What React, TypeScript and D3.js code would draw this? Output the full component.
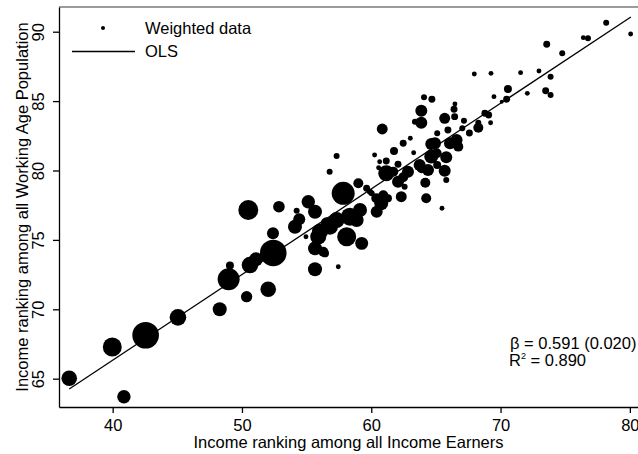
import React, { useRef, useEffect } from "react";
import { select, scaleLinear, scaleSqrt, line, axisBottom, axisLeft } from "d3";

// ranking among all income earners (x)
const earnersRank = [
  36.64, 39.97, 40.87, 42.55, 45.05, 48.28, 48.97, 49.07, 50.36, 52.03,
  50.62, 51.08, 52.42, 50.49, 52.86, 54.23, 55.13, 55.65, 54.1, 54.43,
  52.4, 55.65, 57.45, 54.95, 55.9, 55.65, 56.42, 57.83, 58.1, 56.81,
  57.32, 58.35, 59.13, 59.26, 60.42, 59.0, 59.64, 60.03, 57.32, 56.78,
  60.85, 60.26, 60.65, 60.57, 61.16, 61.76, 62.47, 63.02, 62.07, 61.16,
  62.07, 62.32, 62.84, 63.74, 64.39, 65.1, 65.68, 65.8, 64.64, 64.64,
  65.8, 60.77, 60.39, 61.29, 64.18, 64.25, 65.47, 62.58, 63.28, 65.1,
  65.93, 66.45, 66.4, 65.68, 63.87, 63.87, 63.38, 64.08, 64.69, 66.47,
  66.6, 66.73, 67.17, 67.04, 67.59, 68.28, 68.79, 69.08, 69.23, 69.49,
  70.09, 70.47, 70.57, 67.97, 69.26, 71.55, 72.07, 72.97, 73.49, 73.87,
  73.87, 73.57, 74.77, 76.4, 76.76, 78.17, 80.06, 56.03, 56.29, 56.55,
  58.87, 65.06, 64.93, 66.09, 61.7, 62.47, 60.93, 68.28, 63.9, 59.9,
];

// ranking among all working age population (y)
const workingAgeRank = [
  65.03, 67.28, 63.7, 68.13, 69.42, 70.0, 72.16, 73.16, 70.91, 71.44,
  73.19, 73.6, 74.06, 77.15, 77.39, 77.1, 77.75, 77.03, 75.95, 76.48,
  75.48, 72.88, 73.07, 75.23, 75.23, 74.39, 74.03, 78.36, 75.23, 75.95,
  76.43, 76.67, 77.15, 74.75, 77.03, 79.08, 78.72, 78.36, 81.04, 79.91,
  82.99, 81.12, 80.63, 80.2, 80.68, 81.4, 81.96, 82.32, 80.45, 79.8,
  79.19, 78.11, 79.91, 80.4, 80.04, 80.4, 79.99, 79.32, 81.0, 81.91,
  80.95, 77.64, 78.0, 78.0, 79.12, 78.0, 77.28, 78.83, 81.28, 82.68,
  82.92, 83.88, 84.41, 83.76, 84.31, 83.44, 83.52, 85.27, 85.13, 84.79,
  82.2, 81.72, 83.59, 83.04, 82.7, 83.08, 84.12, 84.0, 83.44, 85.32,
  84.96, 85.13, 85.87, 86.95, 87.0, 87.05, 85.56, 87.17, 85.75, 85.44,
  86.76, 89.09, 88.44, 89.57, 89.52, 90.65, 89.83, 75.59, 74.15, 76.2,
  76.43, 81.24, 81.96, 81.96, 79.91, 79.51, 78.21, 83.44, 80.16, 78.47,
];

// population weights (marker area)
const popWeight = [
  61, 90, 45, 177, 69, 49, 121, 16, 32, 61,
  69, 49, 177, 100, 34, 9, 45, 49, 49, 36,
  36, 49, 6, 6, 64, 49, 16, 132, 90, 64,
  64, 81, 49, 42, 36, 25, 12, 9, 9, 9,
  30, 6, 6, 6, 12, 16, 12, 6, 12, 64,
  36, 30, 36, 36, 36, 16, 36, 9, 49, 36,
  36, 49, 25, 16, 25, 25, 6, 9, 6, 9,
  12, 12, 12, 30, 36, 36, 9, 9, 12, 6,
  36, 25, 9, 9, 12, 25, 12, 12, 6, 6,
  4, 12, 16, 6, 6, 6, 6, 6, 12, 9,
  9, 12, 9, 6, 9, 9, 6, 64, 25, 36,
  49, 25, 36, 36, 25, 25, 25, 9, 25, 9,
];

const xTicks = [40, 50, 60, 70, 80];
const yTicks = [65, 70, 75, 80, 85, 90];
const olsRange = [36.64, 80.08];
const olsIntercept = 41.65;
const olsSlope = 0.617;

const font = "'Liberation Sans', Arial, Helvetica, sans-serif";

function App() {
  const svgRef = useRef(null);

  useEffect(() => {
    const svg = select(svgRef.current);
    svg.selectAll("*").remove();

    const xScale = scaleLinear().domain([35.85, 80.63]).range([59, 638]);
    const yScale = scaleLinear().domain([62.96, 91.78]).range([407, 7]);
    const rScale = scaleSqrt().domain([0, 177]).range([0, 13.3]);

    // top frame
    svg
      .append("line")
      .attr("x1", 59)
      .attr("x2", 638)
      .attr("y1", 7)
      .attr("y2", 7)
      .attr("stroke", "#7a7a7a")
      .attr("stroke-width", 1.6);

    // points
    svg
      .append("g")
      .selectAll("circle")
      .data(earnersRank.map((x, i) => ({ x, y: workingAgeRank[i], w: popWeight[i] })))
      .join("circle")
      .attr("cx", (d) => xScale(d.x))
      .attr("cy", (d) => yScale(d.y))
      .attr("r", (d) => rScale(d.w))
      .attr("fill", "black");

    // OLS
    const olsLine = line<number>()
      .x((d) => xScale(d))
      .y((d) => yScale(olsIntercept + olsSlope * d));
    svg
      .append("path")
      .attr("d", olsLine(olsRange))
      .attr("fill", "none")
      .attr("stroke", "black")
      .attr("stroke-width", 1.3);

    // axes
    const xAxis = axisBottom(xScale).tickValues(xTicks).tickSize(6).tickSizeOuter(0).tickPadding(6);
    const gx = svg.append("g").attr("transform", "translate(0,407)").call(xAxis);
    gx.attr("font-family", font).attr("font-size", 16.5);
    gx.selectAll("path, line").attr("stroke", "black").attr("stroke-width", 1.3);
    gx.selectAll("text").attr("fill", "black");

    const yAxis = axisLeft(yScale).tickValues(yTicks).tickSize(6).tickSizeOuter(0);
    const gy = svg.append("g").attr("transform", "translate(59,0)").call(yAxis);
    gy.attr("font-family", font).attr("font-size", 16.5);
    gy.selectAll("path, line").attr("stroke", "black").attr("stroke-width", 1.3);
    gy.selectAll("text")
      .attr("fill", "black")
      .attr("transform", "rotate(-90)")
      .attr("x", 0)
      .attr("y", -15)
      .attr("dy", 0)
      .attr("text-anchor", "middle");

    // axis titles
    svg
      .append("text")
      .attr("x", 348.5)
      .attr("y", 448)
      .attr("text-anchor", "middle")
      .attr("font-family", font)
      .attr("font-size", 16.5)
      .text("Income ranking among all Income Earners");
    svg
      .append("text")
      .attr("transform", "translate(28,207) rotate(-90)")
      .attr("text-anchor", "middle")
      .attr("font-family", font)
      .attr("font-size", 16.5)
      .text("Income ranking among all Working Age Population");

    // legend
    const legend = svg.append("g").attr("font-family", font).attr("font-size", 16.5);
    legend.append("circle").attr("cx", 103).attr("cy", 28).attr("r", 2).attr("fill", "black");
    legend.append("text").attr("x", 145).attr("y", 34).text("Weighted data");
    legend
      .append("line")
      .attr("x1", 72)
      .attr("x2", 135)
      .attr("y1", 51.5)
      .attr("y2", 51.5)
      .attr("stroke", "black")
      .attr("stroke-width", 1.3);
    legend.append("text").attr("x", 145).attr("y", 57).text("OLS");

    // regression stats
    const stats = svg.append("g").attr("font-family", font).attr("font-size", 16.5);
    stats.append("text").attr("x", 510).attr("y", 349).text("β = 0.591 (0.020)");
    const r2 = stats.append("text").attr("x", 509).attr("y", 366);
    r2.append("tspan").text("R");
    r2.append("tspan").attr("font-size", 9).attr("dy", -7).text("2");
    r2.append("tspan").attr("dy", 7).text(" = 0.890");
  }, []);

  return (
    <div style={{ position: "absolute", left: 0, top: 0 }}>
      <svg ref={svgRef} width={638} height={454} style={{ display: "block" }} />
    </div>
  );
}

export default App;
